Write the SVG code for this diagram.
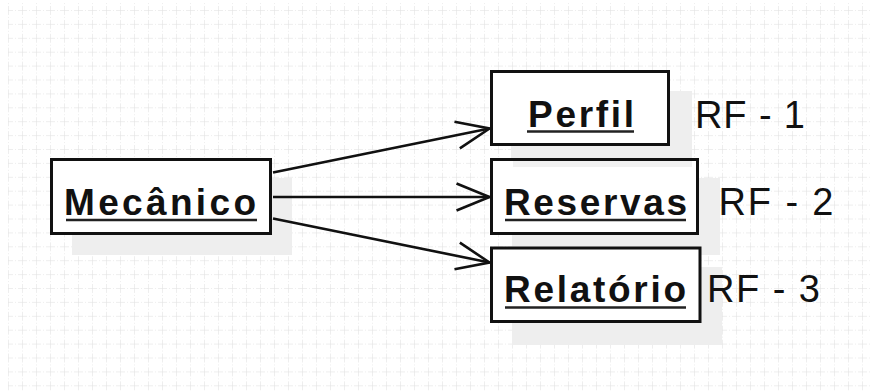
<svg xmlns="http://www.w3.org/2000/svg" width="872" height="391" viewBox="0 0 872 391">
  <defs>
    <!-- faint dashed drawing grid -->
    <pattern id="grid" x="8" y="10" width="14" height="13.9" patternUnits="userSpaceOnUse">
      <line x1="0" y1="0" x2="14" y2="0" stroke="#dedede" stroke-width="1" stroke-dasharray="5 2 1 2"/>
      <line x1="0" y1="0" x2="0" y2="13.9" stroke="#dedede" stroke-width="1" stroke-dasharray="5 2 1 2"/>
    </pattern>
    <marker id="open" markerUnits="userSpaceOnUse" markerWidth="40" markerHeight="32" viewBox="-36 -16 40 32" refX="0" refY="0" orient="auto">
      <path d="M-33,-13.5 L0,0 L-33,13.5" fill="none" stroke="#111" stroke-width="2.6" stroke-linejoin="miter"/>
    </marker>
  </defs>
  <style>
    .box { fill: #fff; stroke: #111; stroke-width: 3; }
    .shadow { fill: #eeeeee; }
    .name { font-family: "Liberation Sans", Arial, sans-serif; font-weight: bold; font-size: 37px; fill: #111; }
    .uline { stroke: #222; stroke-width: 2.5; }
    .req { font-family: "Liberation Sans", Arial, sans-serif; font-size: 38px; fill: #111; }
    .edge { fill: none; stroke: #111; stroke-width: 2.6; marker-end: url(#open); }
  </style>

  <rect width="872" height="391" fill="#fff"/>
  <rect x="8" y="3" width="864" height="388" fill="url(#grid)"/>

  <!-- drop shadows -->
  <g id="shadows">
    <rect class="shadow" x="72" y="178" width="220" height="77"/>
    <rect class="shadow" x="511" y="91" width="181" height="76"/>
    <rect class="shadow" x="512" y="178" width="208" height="77"/>
    <rect class="shadow" x="512" y="267" width="210" height="78"/>
  </g>

  <g id="connectors">
    <line class="edge" x1="273" y1="172.5" x2="489.5" y2="128.5"/>
    <line class="edge" x1="273" y1="197" x2="489.5" y2="197"/>
    <line class="edge" x1="273" y1="218.5" x2="489.5" y2="262.5"/>
  </g>

  <g id="mecanico">
    <rect class="box" x="51.5" y="159.5" width="219" height="74"/>
    <text class="name" x="64" y="215" textLength="192" lengthAdjust="spacing">Mecânico</text>
    <line class="uline" x1="66" y1="220" x2="257" y2="220"/>
  </g>

  <g id="perfil">
    <rect class="box" x="491.5" y="71.5" width="177" height="73"/>
    <text class="name" x="528" y="126.5" textLength="106" lengthAdjust="spacing">Perfil</text>
    <line class="uline" x1="527" y1="131.5" x2="634" y2="131.5"/>
  </g>

  <g id="reservas">
    <rect class="box" x="491.5" y="159.5" width="206" height="74"/>
    <!-- shadow of the box above falls across the top of this one -->
    <rect class="shadow" x="513" y="161" width="179" height="6" opacity="0.8"/>
    <text class="name" x="504" y="215" textLength="183" lengthAdjust="spacing">Reservas</text>
    <line class="uline" x1="505" y1="220" x2="686" y2="220"/>
  </g>

  <g id="relatorio">
    <rect class="box" x="491.5" y="248" width="208.5" height="73.5"/>
    <text class="name" x="504" y="301.5" textLength="182" lengthAdjust="spacing">Relatório</text>
    <line class="uline" x1="505" y1="307.5" x2="686" y2="307.5"/>
  </g>

  <g id="labels">
    <text class="req" x="695" y="128" textLength="110" lengthAdjust="spacing">RF - 1</text>
    <text class="req" x="718.5" y="215" textLength="115" lengthAdjust="spacing">RF - 2</text>
    <text class="req" x="707" y="301.5" textLength="113" lengthAdjust="spacing">RF - 3</text>
  </g>
</svg>
